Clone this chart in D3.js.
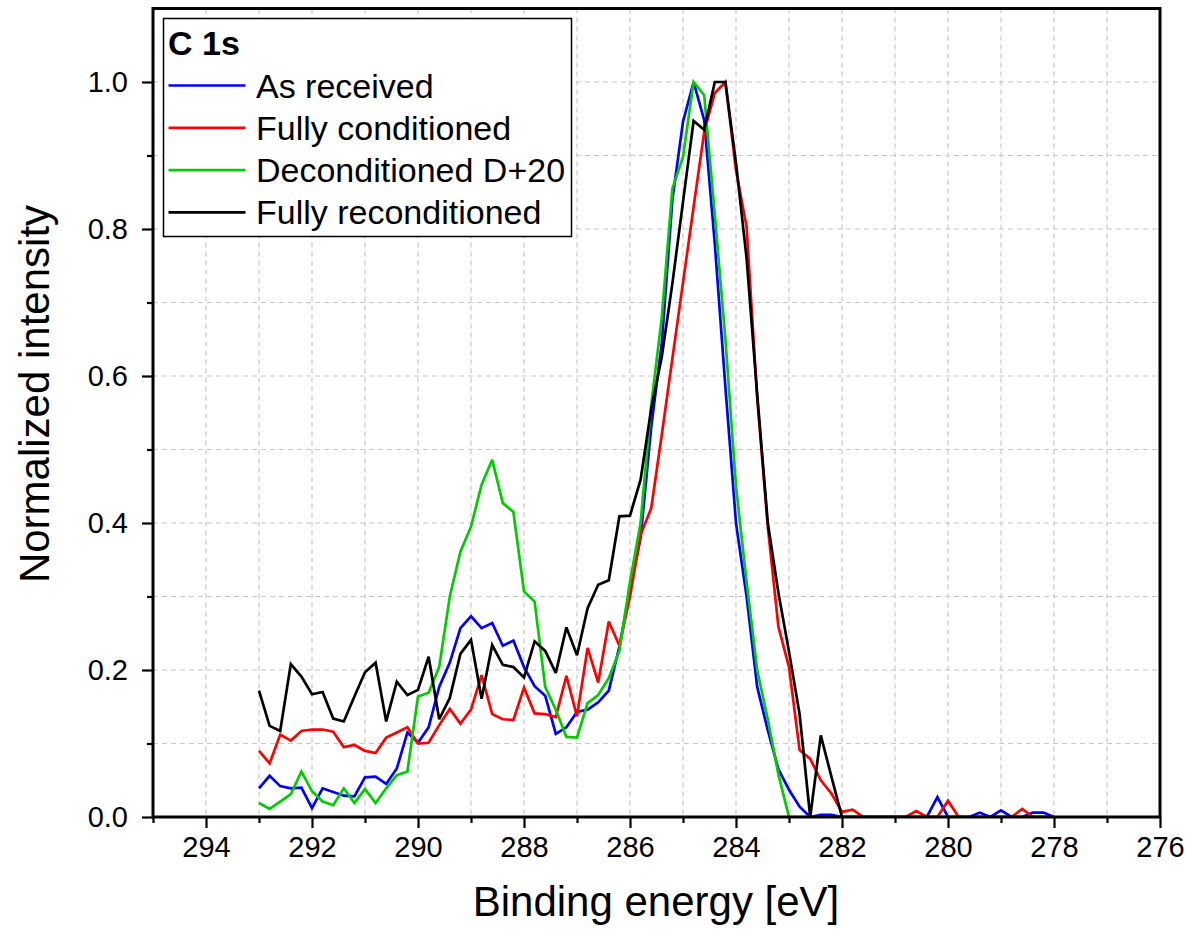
<!DOCTYPE html>
<html>
<head>
<meta charset="utf-8">
<script src="https://cdn.jsdelivr.net/npm/d3@7"></script>
<style>
  body { margin: 0; background: #fff; }
  svg { display: block; }
  text { font-family: "Liberation Sans", Arial, Helvetica, sans-serif; fill: #000; }
</style>
</head>
<body>
<svg id="chart" width="1192" height="947"></svg>
<script>
// Binding energy grid (eV), 0.2 eV steps
const energy = [
  293.0,292.8,292.6,292.4,292.2,292.0,291.8,291.6,291.4,291.2,
  291.0,290.8,290.6,290.4,290.2,290.0,289.8,289.6,289.4,289.2,
  289.0,288.8,288.6,288.4,288.2,288.0,287.8,287.6,287.4,287.2,
  287.0,286.8,286.6,286.4,286.2,286.0,285.8,285.6,285.4,285.2,
  285.0,284.8,284.6,284.4,284.2,284.0,283.8,283.6,283.4,283.2,
  283.0,282.8,282.6,282.4,282.2,282.0,281.8,281.6,281.4,281.2,
  281.0,280.8,280.6,280.4,280.2,280.0,279.8,279.6,279.4,279.2,
  279.0,278.8,278.6,278.4,278.2,278.0
];

// Normalized C 1s intensity for each sample state
const asReceived = [
  0.039,0.056,0.042,0.039,0.040,0.012,0.039,0.034,0.029,0.028,
  0.054,0.055,0.045,0.066,0.115,0.101,0.122,0.177,0.210,0.257,
  0.273,0.257,0.264,0.233,0.240,0.204,0.178,0.165,0.113,0.122,
  0.143,0.146,0.156,0.172,0.232,0.310,0.380,0.530,0.645,0.840,
  0.946,1.000,0.948,0.780,0.585,0.400,0.300,0.177,0.118,0.065,
  0.037,0.014,0.000,0.003,0.003,0.000,0,0,0,0,
  0,0,0,0,0.027,0,0,0,0.006,0,
  0.009,0,0,0.006,0.006,0
];
const fullyConditioned = [
  0.090,0.073,0.112,0.104,0.117,0.119,0.119,0.116,0.095,0.098,
  0.090,0.087,0.108,0.115,0.122,0.100,0.101,0.125,0.147,0.127,
  0.146,0.193,0.140,0.133,0.132,0.176,0.141,0.140,0.136,0.192,
  0.137,0.230,0.183,0.266,0.233,0.300,0.384,0.420,0.520,0.624,
  0.727,0.830,0.932,0.985,1.000,0.880,0.803,0.570,0.395,0.259,
  0.204,0.091,0.079,0.050,0.032,0.007,0.010,0,0,0,
  0,0,0.008,0,0,0.022,0,0,0,0,
  0,0,0.011,0,0,0
];
const deconditioned = [
  0.019,0.011,0.021,0.031,0.062,0.035,0.021,0.016,0.039,0.019,
  0.038,0.019,0.039,0.057,0.062,0.164,0.169,0.204,0.300,0.361,
  0.395,0.452,0.486,0.427,0.415,0.307,0.293,0.177,0.146,0.109,
  0.108,0.155,0.166,0.189,0.226,0.320,0.400,0.560,0.680,0.855,
  0.898,1.000,0.982,0.820,0.650,0.450,0.320,0.200,0.133,0.058,
  0,0,0,0,0,0,0,0,0,0,
  0,0,0,0,0,0,0,0,0,0,
  0,0,0,0,0,0
];
const fullyReconditioned = [
  0.172,0.124,0.117,0.208,0.191,0.167,0.170,0.134,0.130,0.164,
  0.197,0.210,0.130,0.184,0.166,0.173,0.218,0.133,0.162,0.222,
  0.241,0.161,0.234,0.207,0.204,0.190,0.239,0.226,0.196,0.258,
  0.220,0.284,0.316,0.322,0.409,0.410,0.459,0.555,0.626,0.726,
  0.837,0.947,0.935,1.000,1.000,0.890,0.760,0.575,0.400,0.305,
  0.225,0.140,0.000,0.111,0.055,0,0,0,0,0,
  0,0,0,0,0,0,0,0,0,0,
  0,0,0,0,0,0
];

const seriesNames = ["As received", "Fully conditioned", "Deconditioned D+20", "Fully reconditioned"];
const seriesValues = [asReceived, fullyConditioned, deconditioned, fullyReconditioned];
const seriesColors = ["#0000ff", "#ff0000", "#00cc00", "#000000"];

const xMajorTicks = [294, 292, 290, 288, 286, 284, 282, 280, 278, 276];
const xMinorTicks = [295, 293, 291, 289, 287, 285, 283, 281, 279, 277];
const yMajorTicks = [0.0, 0.2, 0.4, 0.6, 0.8, 1.0];
const yMinorTicks = [0.1, 0.3, 0.5, 0.7, 0.9];
const xGridValues = [294, 293, 292, 291, 290, 289, 288, 287, 286, 285, 284, 283, 282, 281, 280, 279, 278, 277];
const yGridValues = [0.1, 0.2, 0.3, 0.4, 0.5, 0.6, 0.7, 0.8, 0.9, 1.0];

const panel = "C 1s";
const xTitle = "Binding energy [eV]";
const yTitle = "Normalized intensity";

// ---- layout ----
const plot = { left: 153, right: 1160, top: 8.5, bottom: 817 };
const svg = d3.select("#chart");

const x = d3.scaleLinear().domain([295, 276]).range([plot.left, plot.right]);
const y = d3.scaleLinear().domain([0, 1.1]).range([plot.bottom, plot.top]);

// grid
const grid = svg.append("g").attr("stroke", "#c8c8c8").attr("stroke-width", 1.2).attr("stroke-dasharray", "5,4");
grid.selectAll("line.v").data(xGridValues).join("line")
  .attr("x1", d => x(d)).attr("x2", d => x(d))
  .attr("y1", plot.top).attr("y2", plot.bottom);
grid.selectAll("line.h").data(yGridValues).join("line")
  .attr("y1", d => y(d)).attr("y2", d => y(d))
  .attr("x1", plot.left).attr("x2", plot.right);

// data lines, clipped to the plot frame
svg.append("clipPath").attr("id", "plot-clip")
  .append("rect").attr("x", plot.left).attr("y", plot.top)
  .attr("width", plot.right - plot.left).attr("height", plot.bottom - plot.top);

const line = d3.line().x((d, i) => x(energy[i])).y(d => y(d));
const lines = svg.append("g").attr("clip-path", "url(#plot-clip)");
seriesValues.forEach((vals, k) => {
  lines.append("path")
    .datum(vals)
    .attr("d", line)
    .attr("fill", "none")
    .attr("stroke", seriesColors[k])
    .attr("stroke-width", 2.7)
    .attr("stroke-linejoin", "miter")
    .attr("stroke-miterlimit", 3);
});

// frame
svg.append("rect")
  .attr("x", plot.left).attr("y", plot.top)
  .attr("width", plot.right - plot.left).attr("height", plot.bottom - plot.top)
  .attr("fill", "none").attr("stroke", "#000").attr("stroke-width", 3);

// bottom axis
const xAxisMajor = d3.axisBottom(x).tickValues(xMajorTicks).tickSize(11).tickPadding(8).tickFormat(d3.format("d"));
const xAxisMinor = d3.axisBottom(x).tickValues(xMinorTicks).tickSize(6).tickFormat("");
const gxMin = svg.append("g").attr("transform", `translate(0,${plot.bottom})`).call(xAxisMinor);
const gx = svg.append("g").attr("transform", `translate(0,${plot.bottom})`).call(xAxisMajor);
[gx, gxMin].forEach(g => {
  g.select(".domain").remove();
  g.selectAll(".tick line").attr("stroke", "#000").attr("stroke-width", 2.2);
});
gx.selectAll(".tick text").attr("font-size", 29).attr("fill", "#000")
  .style("font-family", "'Liberation Sans', Arial, sans-serif");

// left axis
const yAxisMajor = d3.axisLeft(y).tickValues(yMajorTicks).tickSize(11).tickPadding(14).tickFormat(d3.format(".1f"));
const yAxisMinor = d3.axisLeft(y).tickValues(yMinorTicks).tickSize(6).tickFormat("");
const gyMin = svg.append("g").attr("transform", `translate(${plot.left},0)`).call(yAxisMinor);
const gy = svg.append("g").attr("transform", `translate(${plot.left},0)`).call(yAxisMajor);
[gy, gyMin].forEach(g => {
  g.select(".domain").remove();
  g.selectAll(".tick line").attr("stroke", "#000").attr("stroke-width", 2.2);
});
gy.selectAll(".tick text").attr("font-size", 29).attr("fill", "#000")
  .style("font-family", "'Liberation Sans', Arial, sans-serif");

// axis titles
svg.append("text")
  .attr("x", 656).attr("y", 916)
  .attr("text-anchor", "middle").attr("font-size", 42)
  .text(xTitle);
svg.append("text")
  .attr("transform", "translate(49,394) rotate(-90)")
  .attr("text-anchor", "middle").attr("font-size", 42)
  .text(yTitle);

// legend
const legend = svg.append("g").attr("transform", "translate(163.5,18.5)");
legend.append("rect").attr("width", 408).attr("height", 218)
  .attr("fill", "#fff").attr("stroke", "#000").attr("stroke-width", 1.5);
legend.append("text").attr("x", 4.5).attr("y", 36.5)
  .attr("font-size", 34).attr("font-weight", "bold").text(panel);
const rows = legend.selectAll("g.row").data(seriesNames).join("g")
  .attr("transform", (d, i) => `translate(0,${67 + i * 42.3})`);
rows.append("line").attr("x1", 5).attr("x2", 82).attr("y1", 0).attr("y2", 0)
  .attr("stroke", (d, i) => seriesColors[i]).attr("stroke-width", 2.7);
rows.append("text").attr("x", 92.5).attr("y", 12).attr("font-size", 34).text(d => d);
</script>
</body>
</html>
